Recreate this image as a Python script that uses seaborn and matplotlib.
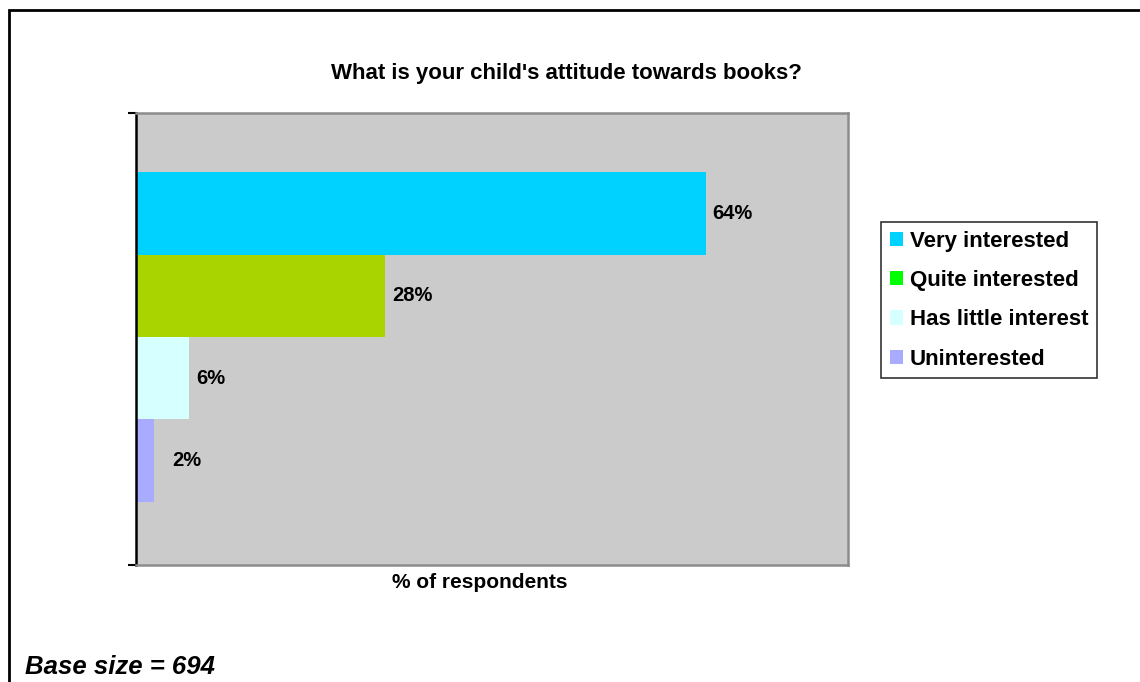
import matplotlib
matplotlib.use("Agg")
import matplotlib.pyplot as plt
from matplotlib.patches import Patch, Rectangle
import seaborn as sns
import pandas as pd

categories = ["Very interested", "Quite interested", "Has little interest", "Uninterested"]
values = [64, 28, 6, 2]
bar_colors = ["#00D2FF", "#A9D400", "#D6FFFF", "#A9ABFF"]
legend_colors = ["#00D2FF", "#00FF00", "#D6FFFF", "#A9ABFF"]
title = "What is your child's attitude towards books?"
xlabel = "% of respondents"
footnote = "Base size = 694"

sns.set_theme(style="white")
plt.rcParams['font.family'] = ['Liberation Sans', 'DejaVu Sans']
plt.rcParams['text.color'] = 'black'
plt.rcParams['axes.labelcolor'] = 'black'

df = pd.DataFrame({"category": categories, "value": values})

fig = plt.figure(figsize=(11.4, 6.82), dpi=100)
ax = fig.add_axes([136/1140, 1-565/682, (848-136)/1140, (565-113)/682])
ax.set_facecolor("#CBCBCB")

sns.barplot(data=df, y="category", x="value", hue="category", order=categories,
            hue_order=categories, palette=bar_colors, orient="h", width=1.0,
            dodge=False, legend=False, saturation=1.0, ax=ax, linewidth=0)

ax.set_xlim(0, 80)
ymin, ymax = -1.22, 4.27
ax.set_ylim(ymax, ymin)

for i, v in enumerate(values):
    ax.text(max(v, 3.3) + 0.8, i, f"{v}%", va="center", ha="left", fontsize=14.5,
            fontweight="bold", color="black")

ax.set_xticks([])
ax.set_yticks([ymin, ymax])
ax.set_yticklabels(["", ""])
ax.tick_params(axis="y", direction="out", length=6, width=1.5, color="black", left=True)
ax.set_ylabel("")
ax.set_xlabel(xlabel, fontsize=15, fontweight="bold", color="black")
ax.xaxis.set_label_coords((480-136)/712, -8/452)

for s in ["top", "right", "bottom"]:
    ax.spines[s].set_color("#8C8C8C")
    ax.spines[s].set_linewidth(1.8)
ax.spines["left"].set_color("black")
ax.spines["left"].set_linewidth(1.8)

fig.text(566/1140, 1-73/682, title, ha="center", va="center", fontsize=16,
         fontweight="bold", color="black")
fig.text(25/1140, 1-667/682, footnote, ha="left", va="center", fontsize=18.5,
         fontweight="bold", fontstyle="italic", color="black")

handles = [Patch(facecolor=c, edgecolor="none") for c in legend_colors]
leg = fig.legend(handles, categories, loc="upper left",
                 bbox_to_anchor=(881/1140, 1-222/682), borderaxespad=0,
                 frameon=True, fancybox=False, edgecolor="black",
                 prop={"weight": "bold", "size": 16}, handlelength=0.6,
                 handleheight=0.6, handletextpad=0.3, labelspacing=0.82,
                 borderpad=0.4)
leg.get_frame().set_linewidth(1.2)
for t in leg.get_texts():
    t.set_color("black")

fig.patches.append(Rectangle((9/1140, -0.1), 1.2, 1 - 10/682 + 0.1,
                             transform=fig.transFigure, fill=False,
                             edgecolor="black", linewidth=2))

fig.savefig("out.png", dpi=100)
